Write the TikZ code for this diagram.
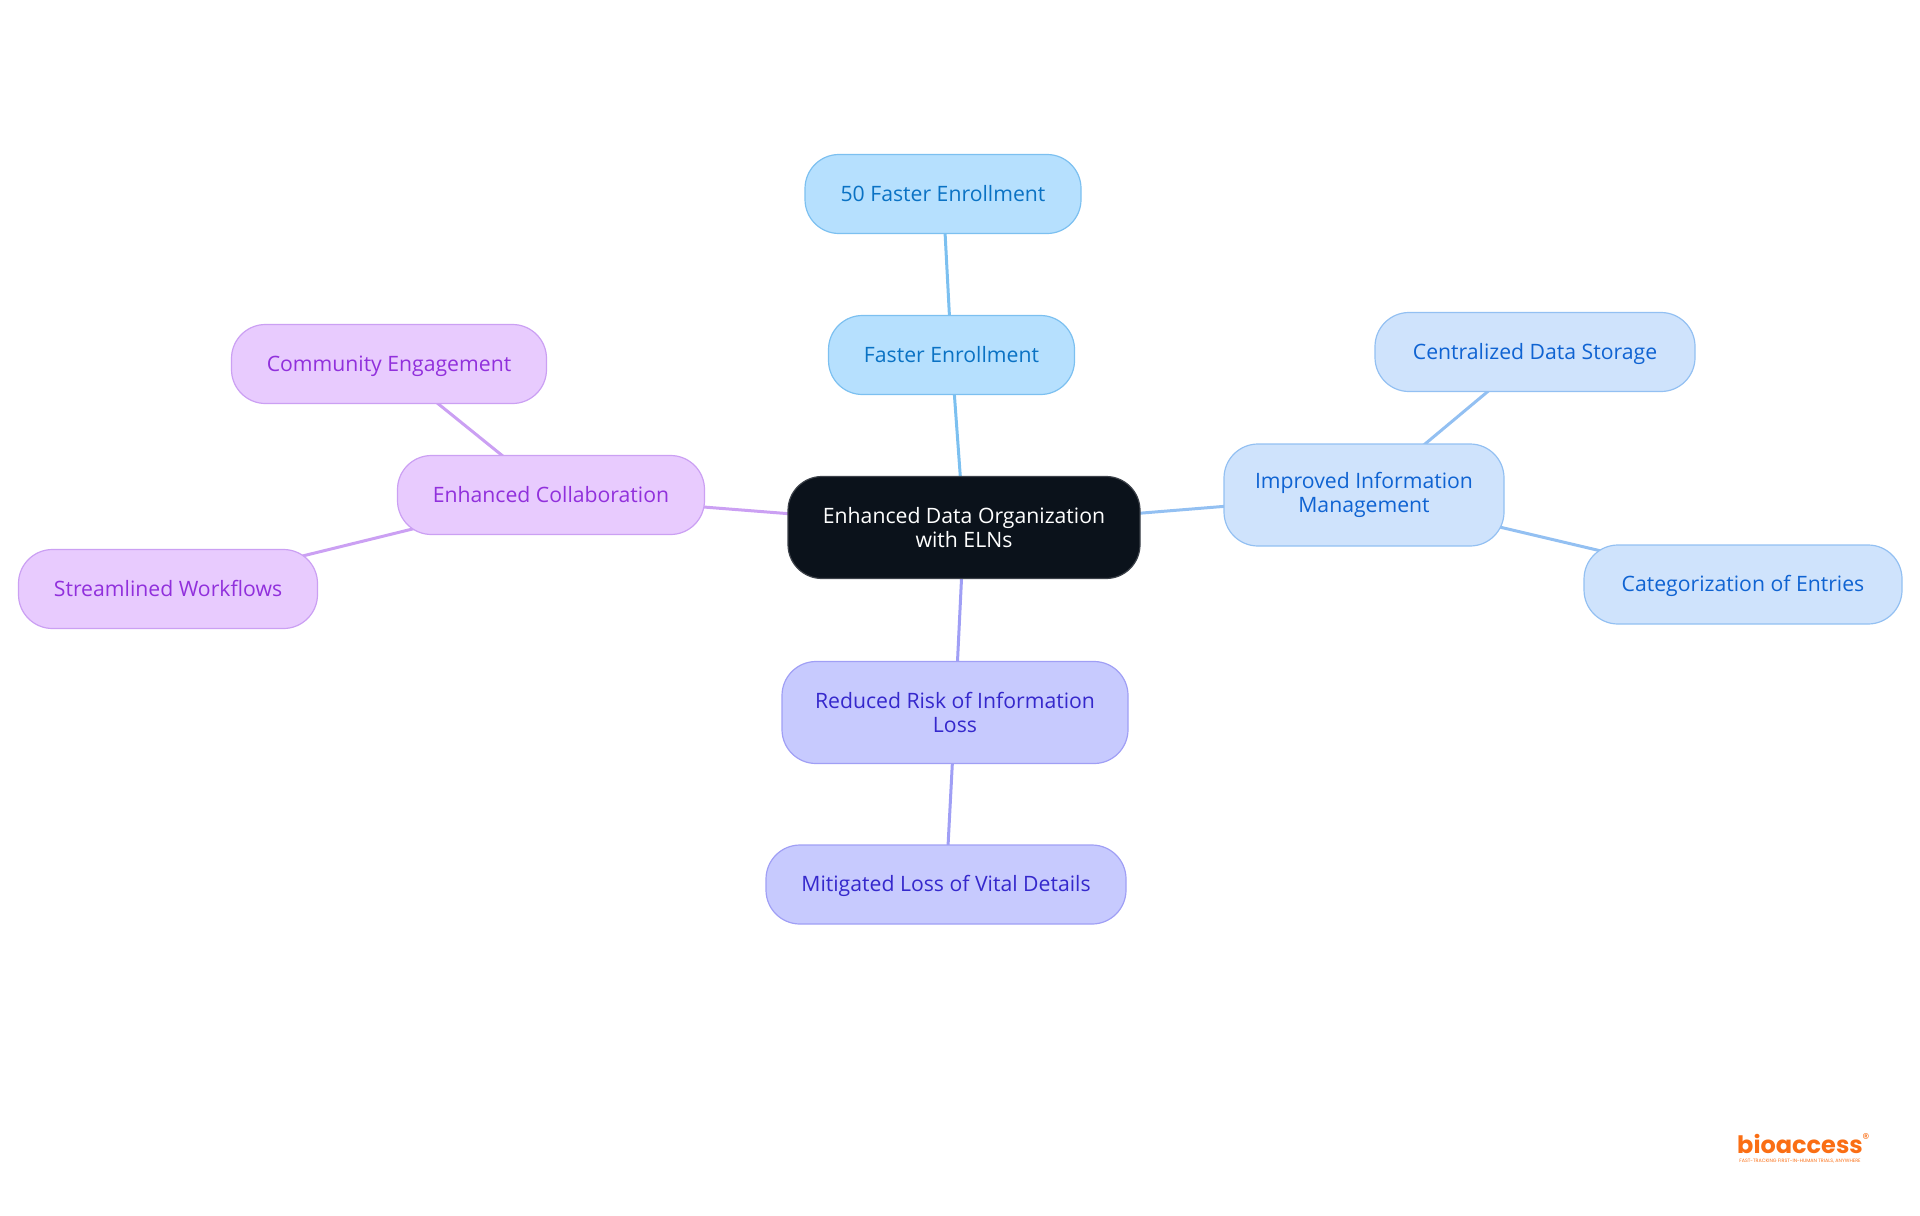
\documentclass[tikz,border=0pt]{standalone}
\usepackage{fontspec}
\setmainfont{Open Sans}
\newfontfamily\logofont{Poppins}
\usetikzlibrary{backgrounds}
\definecolor{skyfill}{HTML}{B6E0FE}
\definecolor{skyline}{HTML}{7CC0F0}
\definecolor{skytext}{HTML}{0A72C4}
\definecolor{bluefill}{HTML}{CFE3FC}
\definecolor{blueline}{HTML}{93C0F2}
\definecolor{bluetext}{HTML}{0F63D2}
\definecolor{indfill}{HTML}{C7CAFE}
\definecolor{indline}{HTML}{A09FF5}
\definecolor{indtext}{HTML}{3528CC}
\definecolor{purfill}{HTML}{E8CBFE}
\definecolor{purline}{HTML}{CBA0F3}
\definecolor{purtext}{HTML}{9130DC}
\definecolor{rootfill}{HTML}{0B121B}
\definecolor{logoorange}{HTML}{FA6E14}
\tikzset{
  box/.style={draw, rounded corners=17pt, line width=0.6pt, align=center, font=\fontsize{10.6}{12}\selectfont, inner sep=0pt},
  single/.style={minimum height=39.5pt, text height=9pt, text depth=2pt},
  double/.style={minimum height=51pt},
  rootbox/.style={box, double, fill=rootfill, draw=rootfill!80!white, text=white, minimum width=176pt},
  skybox/.style={box, fill=skyfill, draw=skyline, text=skytext},
  bluebox/.style={box, fill=bluefill, draw=blueline, text=bluetext},
  indbox/.style={box, fill=indfill, draw=indline, text=indtext},
  purbox/.style={box, fill=purfill, draw=purline, text=purtext},
  link/.style={line width=1.5pt},
  logotext/.style={inner sep=0pt, text=logoorange}
}
\begin{document}
\begin{tikzpicture}[x=0.5pt,y=-0.5pt]
  \useasboundingbox (0,0) rectangle (1920,1215);
  % centre
  \node[rootbox] (root) at (964,527.5) {Enhanced Data Organization\\with ELNs};
  % top
  \node[skybox, single, minimum width=123pt] (faster) at (951.5,355) {Faster Enrollment};
  \node[skybox, single, minimum width=138pt] (fifty) at (943,194) {50 Faster Enrollment};
  % right
  \node[bluebox, double, minimum width=140pt] (info) at (1364,495) {Improved Information\\Management};
  \node[bluebox, single, minimum width=160pt] (storage) at (1535,352) {Centralized Data Storage};
  \node[bluebox, single, minimum width=159pt] (entries) at (1743,584.5) {Categorization of Entries};
  % bottom
  \node[indbox, double, minimum width=173pt] (risk) at (955,712.5) {Reduced Risk of Information\\Loss};
  \node[indbox, single, minimum width=180pt] (vital) at (946,884.5) {Mitigated Loss of Vital Details};
  % left
  \node[purbox, single, minimum width=153.5pt] (collab) at (551,495) {Enhanced Collaboration};
  \node[purbox, single, minimum width=157.5pt] (community) at (389,364) {Community Engagement};
  \node[purbox, single, minimum width=149.5pt] (flows) at (168,589) {Streamlined Workflows};
  % logo
  \node[logotext, font=\logofont\bfseries\fontsize{12}{12}\selectfont] (logo) at (1800,1144) {bioaccess};
  \node[logotext, font=\logofont\fontsize{2.4}{2.4}\selectfont, anchor=north] (tagline) at (1800,1159) {FAST-TRACKING FIRST-IN-HUMAN TRIALS, ANYWHERE};
  \node[logotext, font=\logofont\fontsize{7}{7}\selectfont] (regmark) at (1866,1139) {\char"00AE};
  % links
  \begin{scope}[on background layer]
    \draw[link, skyline] (root.center) -- (faster.center);
    \draw[link, skyline] (faster.center) -- (fifty.center);
    \draw[link, blueline] (root.center) -- (info.center);
    \draw[link, blueline] (info.center) -- (storage.center);
    \draw[link, blueline] (info.center) -- (entries.center);
    \draw[link, indline] (root.center) -- (risk.center);
    \draw[link, indline] (risk.center) -- (vital.center);
    \draw[link, purline] (root.center) -- (collab.center);
    \draw[link, purline] (collab.center) -- (community.center);
    \draw[link, purline] (collab.center) -- (flows.center);
  \end{scope}
\end{tikzpicture}
\end{document}
